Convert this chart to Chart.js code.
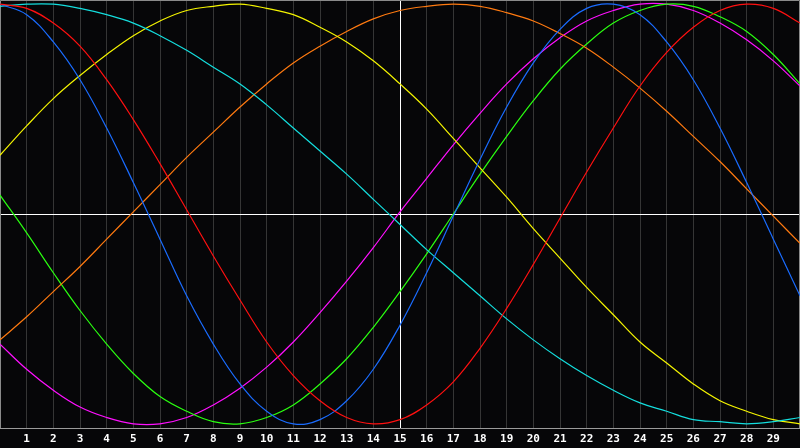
<!DOCTYPE html>
<html>
<head>
<meta charset="utf-8">
<title>Biorhythm</title>
<script src="https://cdn.jsdelivr.net/npm/chart.js@4/dist/chart.umd.min.js"></script>
<style>
  html, body { margin: 0; padding: 0; background: #060608; }
  #wrap { width: 800px; height: 448px; position: relative; }
</style>
</head>
<body>
<div id="wrap"><canvas id="chart"></canvas></div>
<script>
// days shown on the chart (0 and 30 are the edges)
const days = [0, 1, 2, 3, 4, 5, 6, 7, 8, 9, 10, 11, 12, 13, 14, 15, 16, 17, 18, 19, 20, 21, 22, 23, 24, 25, 26, 27, 28, 29, 30];
const today = 15;

// values in percent, one per day
const red     = [100, 98, 91, 80, 64, 45, 24, 2, -20, -41, -61, -77, -89, -97, -100, -98, -91, -80, -64, -45, -24, -2, 20, 41, 61, 77, 89, 97, 100, 98, 91];
const blue    = [100, 95, 82, 64, 41, 15, -12, -39, -62, -81, -94, -100, -98, -89, -74, -53, -28, -1, 26, 51, 72, 88, 98, 100, 95, 82, 64, 41, 15, -12, -39];
const cyan    = [99, 100, 100, 98, 95, 91, 85, 78, 70, 62, 52, 41, 30, 19, 7, -5, -17, -28, -39, -50, -60, -69, -77, -84, -90, -94, -98, -99, -100, -99, -97];
const yellow  = [28, 42, 55, 66, 76, 85, 92, 97, 99, 100, 98, 95, 89, 82, 73, 62, 50, 36, 22, 8, -7, -21, -35, -48, -61, -71, -81, -89, -94, -98, -100];
const orange  = [-60, -49, -37, -25, -12, 1, 14, 27, 39, 51, 62, 72, 80, 87, 93, 97, 99, 100, 99, 96, 92, 86, 79, 70, 60, 49, 37, 25, 12, -1, -14];
const green   = [9, -9, -28, -46, -62, -76, -87, -94, -99, -100, -97, -91, -81, -69, -54, -37, -19, 0, 19, 37, 54, 69, 81, 91, 97, 100, 99, 94, 87, 76, 62];
const magenta = [-62, -74, -84, -92, -97, -100, -100, -97, -91, -83, -73, -61, -47, -32, -16, 1, 17, 33, 48, 62, 74, 84, 92, 97, 100, 100, 97, 91, 83, 73, 61];

const series = [
  { name: 'red', values: red, color: '#ff1010' },
  { name: 'blue', values: blue, color: '#1a6cff' },
  { name: 'cyan', values: cyan, color: '#14dede' },
  { name: 'yellow', values: yellow, color: '#f5f500' },
  { name: 'orange', values: orange, color: '#ff7a10' },
  { name: 'green', values: green, color: '#2aff10' },
  { name: 'magenta', values: magenta, color: '#ff10ff' },
];

// thin frame round the plot area
const framePlugin = {
  id: 'frame',
  beforeDatasetsDraw(chart) {
    const { ctx, chartArea: a } = chart;
    ctx.save();
    ctx.strokeStyle = '#8a8a8a';
    ctx.lineWidth = 1;
    ctx.beginPath();
    ctx.moveTo(Math.round(a.left) + 0.5, Math.round(a.bottom));
    ctx.lineTo(Math.round(a.left) + 0.5, 0.5);
    ctx.lineTo(Math.round(a.right) - 0.5, 0.5);
    ctx.lineTo(Math.round(a.right) - 0.5, Math.round(a.bottom));
    ctx.stroke();
    ctx.restore();
  }
};

document.addEventListener('DOMContentLoaded', () => {
  const ctx = document.getElementById('chart').getContext('2d');
  new Chart(ctx, {
    type: 'line',
    data: {
      datasets: series.map(s => ({
        label: s.name,
        data: days.map((d, i) => ({ x: d, y: s.values[i] })),
        borderColor: s.color,
        borderWidth: 1.2,
        pointRadius: 0,
        tension: 0.4,
        fill: false,
      })),
    },
    options: {
      responsive: true,
      maintainAspectRatio: false,
      animation: false,
      layout: { padding: 0 },
      plugins: {
        legend: { display: false },
        tooltip: { enabled: false },
      },
      scales: {
        x: {
          type: 'linear',
          min: 0,
          max: 30,
          afterFit(scale) {
            scale.height = 20;
            scale.paddingLeft = 0;
            scale.paddingRight = 0;
          },
          ticks: {
            stepSize: 1,
            autoSkip: false,
            maxRotation: 0,
            padding: 5,
            color: '#ffffff',
            font: { family: 'DejaVu Sans Mono', size: 11, weight: 'bold' },
            callback: v => (v > 0 && v < 30 ? String(v) : ''),
          },
          grid: {
            drawTicks: false,
            lineWidth: 1,
            color: c => (c.tick && c.tick.value === today ? '#ffffff' : '#353535'),
          },
          border: { display: true, color: '#9a9a9a', width: 1 },
        },
        y: {
          min: -102,
          max: 102,
          afterFit(scale) { scale.width = 0; },
          ticks: { display: false, stepSize: 102 },
          grid: {
            drawTicks: false,
            color: c => (c.tick && c.tick.value === 0 ? '#ffffff' : 'rgba(0,0,0,0)'),
          },
          border: { display: false },
        },
      },
    },
    plugins: [framePlugin],
  });
});
</script>
</body>
</html>
